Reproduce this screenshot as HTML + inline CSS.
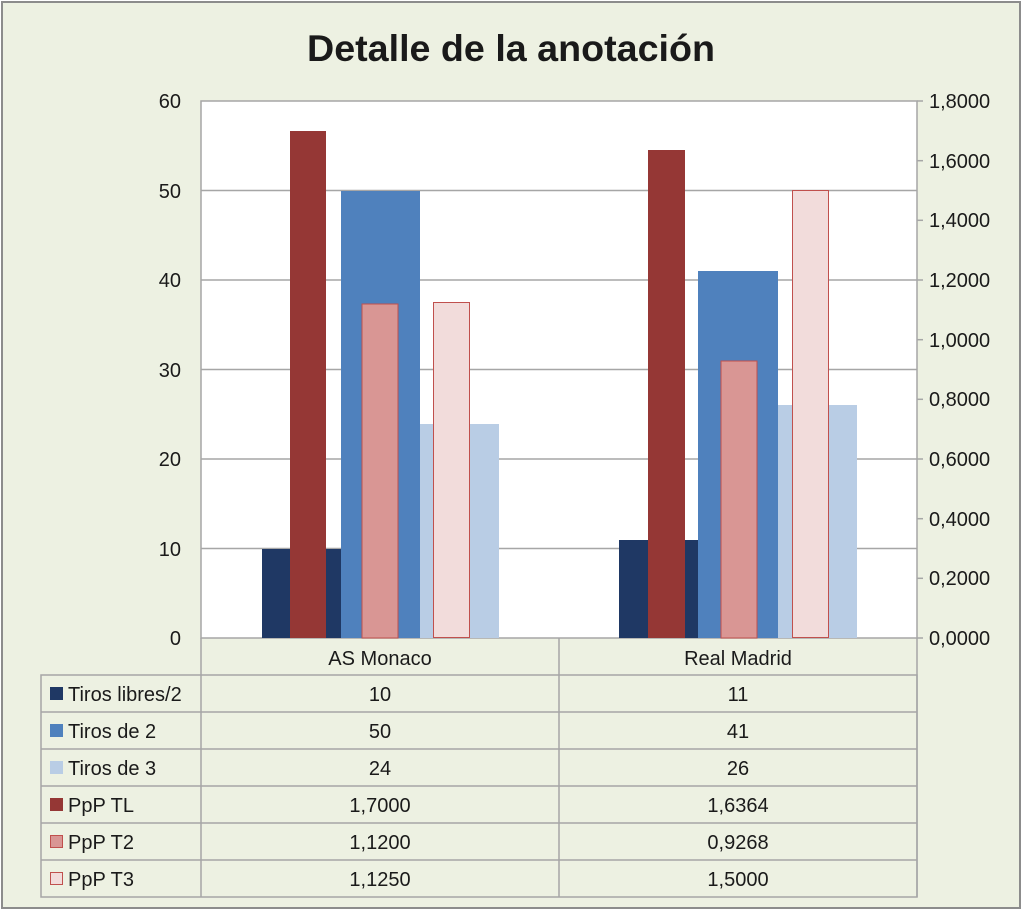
<!DOCTYPE html>
<html><head><meta charset="utf-8"><style>
html,body{margin:0;padding:0;background:#fff}
svg{display:block}
text{font-family:"Liberation Sans",sans-serif;fill:#1a1a1a}
</style></head><body>
<svg width="1024" height="914" viewBox="0 0 1024 914">
<rect x="0" y="0" width="1024" height="914" fill="#fff"/>
<rect x="2" y="2" width="1018" height="906" fill="#edf1e2" stroke="#8c8c8c" stroke-width="2"/>
<text x="511" y="61" text-anchor="middle" font-size="37" font-weight="bold" fill="#000" textLength="408" lengthAdjust="spacingAndGlyphs">Detalle de la anotación</text>
<rect x="201" y="101" width="716" height="537" fill="#fff" stroke="#a6a6a6" stroke-width="1.5"/>
<g stroke="#a6a6a6" stroke-width="1.5">
<line x1="201" y1="190.5" x2="917" y2="190.5"/>
<line x1="201" y1="280" x2="917" y2="280"/>
<line x1="201" y1="369.5" x2="917" y2="369.5"/>
<line x1="201" y1="459" x2="917" y2="459"/>
<line x1="201" y1="548.5" x2="917" y2="548.5"/>
<line x1="917" y1="101" x2="923" y2="101"/>
<line x1="917" y1="160.7" x2="923" y2="160.7"/>
<line x1="917" y1="220.3" x2="923" y2="220.3"/>
<line x1="917" y1="280" x2="923" y2="280"/>
<line x1="917" y1="339.7" x2="923" y2="339.7"/>
<line x1="917" y1="399.3" x2="923" y2="399.3"/>
<line x1="917" y1="459" x2="923" y2="459"/>
<line x1="917" y1="518.7" x2="923" y2="518.7"/>
<line x1="917" y1="578.3" x2="923" y2="578.3"/>
<line x1="917" y1="638" x2="923" y2="638"/>
</g>
<g font-size="20" text-anchor="end">
<text x="181" y="108">60</text><text x="181" y="198">50</text><text x="181" y="287">40</text>
<text x="181" y="377">30</text><text x="181" y="466">20</text><text x="181" y="556">10</text><text x="181" y="645">0</text>
</g>
<g font-size="20">
<text x="929" y="108">1,8000</text><text x="929" y="168">1,6000</text><text x="929" y="227">1,4000</text>
<text x="929" y="287">1,2000</text><text x="929" y="347">1,0000</text><text x="929" y="406">0,8000</text>
<text x="929" y="466">0,6000</text><text x="929" y="526">0,4000</text><text x="929" y="585">0,2000</text><text x="929" y="645">0,0000</text>
</g>
<!-- AS Monaco -->
<rect x="262" y="549" width="79" height="89" fill="#1f3864"/>
<rect x="341" y="191" width="79" height="447" fill="#4f81bd"/>
<rect x="420" y="424" width="79" height="214" fill="#b9cde5"/>
<rect x="290" y="131" width="36" height="507" fill="#953735"/>
<rect x="362" y="304" width="36" height="334" fill="#d99694" stroke="#c0504d" stroke-width="1"/>
<rect x="433.5" y="302.5" width="36" height="335" fill="#f2dcdb" stroke="#c0504d" stroke-width="1"/>
<!-- Real Madrid -->
<rect x="619" y="540" width="79" height="98" fill="#1f3864"/>
<rect x="698" y="271" width="80" height="367" fill="#4f81bd"/>
<rect x="778" y="405" width="79" height="233" fill="#b9cde5"/>
<rect x="648" y="150" width="37" height="488" fill="#953735"/>
<rect x="721" y="361" width="36" height="277" fill="#d99694" stroke="#c0504d" stroke-width="1"/>
<rect x="792.5" y="190.5" width="36" height="447" fill="#f2dcdb" stroke="#c0504d" stroke-width="1"/>
<!-- table -->
<g stroke="#a6a6a6" stroke-width="1.5" fill="none">
<line x1="201" y1="638" x2="201" y2="897"/>
<line x1="559" y1="638" x2="559" y2="897"/>
<line x1="917" y1="638" x2="917" y2="897"/>
<rect x="41" y="675" width="876" height="222"/>
<line x1="41" y1="712" x2="917" y2="712"/>
<line x1="41" y1="749" x2="917" y2="749"/>
<line x1="41" y1="786" x2="917" y2="786"/>
<line x1="41" y1="823" x2="917" y2="823"/>
<line x1="41" y1="860" x2="917" y2="860"/>
</g>
<g font-size="20" text-anchor="middle">
<text x="380" y="665">AS Monaco</text><text x="738" y="665">Real Madrid</text>
<text x="380" y="701">10</text><text x="738" y="701">11</text>
<text x="380" y="738">50</text><text x="738" y="738">41</text>
<text x="380" y="775">24</text><text x="738" y="775">26</text>
<text x="380" y="812">1,7000</text><text x="738" y="812">1,6364</text>
<text x="380" y="849">1,1200</text><text x="738" y="849">0,9268</text>
<text x="380" y="886">1,1250</text><text x="738" y="886">1,5000</text>
</g>
<rect x="50" y="687" width="13" height="13" fill="#1f3864"/>
<rect x="50" y="724" width="13" height="13" fill="#4f81bd"/>
<rect x="50" y="761" width="13" height="13" fill="#b9cde5"/>
<rect x="50" y="798" width="13" height="13" fill="#953735"/>
<rect x="50.5" y="835.5" width="12" height="12" fill="#d99694" stroke="#c0504d"/>
<rect x="50.5" y="872.5" width="12" height="12" fill="#f2dcdb" stroke="#c0504d"/>
<g font-size="20">
<text x="68" y="701">Tiros libres/2</text>
<text x="68" y="738">Tiros de 2</text>
<text x="68" y="775">Tiros de 3</text>
<text x="68" y="812">PpP TL</text>
<text x="68" y="849">PpP T2</text>
<text x="68" y="886">PpP T3</text>
</g>
</svg>
</body></html>
